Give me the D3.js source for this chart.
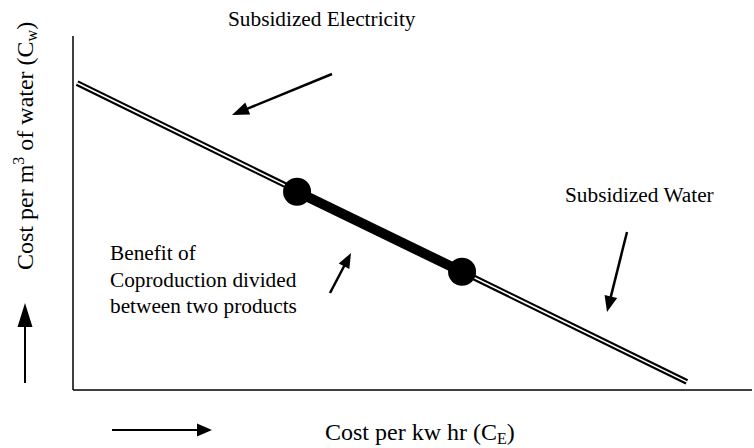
<!DOCTYPE html>
<html><head><meta charset="utf-8">
<script src="https://cdn.jsdelivr.net/npm/d3@7"></script>
<style>html,body{margin:0;padding:0;background:#fff;} svg{display:block;} svg text{font-family:"Liberation Serif","Times New Roman",serif;}</style>
</head><body>
<svg id="chart" width="754" height="448"></svg>
<script>
// ---- data (abstract units, 0-100) ----
const costLineX = [0.6, 90.4];
const costLineY = [86.7, 2.3];
const benefitX = [33.0, 57.3];
const benefitY = [56.0, 33.4];
const annotationTexts = ["Subsidized Electricity", "Subsidized Water"];
const benefitLines = ["Benefit of", "Coproduction divided", "between two products"];

const FONT = "Liberation Serif, Times New Roman, serif";
const svg = d3.select("#chart");
const x = d3.scaleLinear().domain([0, 100]).range([73, 752]);
const y = d3.scaleLinear().domain([0, 100]).range([390, 36]);

const line = d3.line().x(d => x(d[0])).y(d => y(d[1]));
const costPts = costLineX.map((v, i) => [v, costLineY[i]]);
const benPts = benefitX.map((v, i) => [v, benefitY[i]]);

// axes (no ticks)
svg.append("line").attr("x1", x(0)).attr("x2", x(0)).attr("y1", y(100)).attr("y2", y(0))
  .attr("stroke", "#000").attr("stroke-width", 1.5);
svg.append("line").attr("x1", x(0)).attr("x2", x(100)).attr("y1", y(0)).attr("y2", y(0))
  .attr("stroke", "#000").attr("stroke-width", 1.5);

// double line
svg.append("path").attr("d", line(costPts)).attr("stroke", "#000").attr("stroke-width", 6).attr("fill", "none");
svg.append("path").attr("d", line(costPts)).attr("stroke", "#fff").attr("stroke-width", 1.6).attr("fill", "none");

// thick benefit segment
svg.append("path").attr("d", line(benPts)).attr("stroke", "#000").attr("stroke-width", 10).attr("fill", "none");
svg.selectAll("circle.dot").data(benPts).enter().append("circle")
  .attr("cx", d => x(d[0])).attr("cy", d => y(d[1])).attr("r", 14).attr("fill", "#000");

// arrows helper
function arrow(x1, y1, x2, y2, headLen, headW, sw) {
  const dx = x2 - x1, dy = y2 - y1, L = Math.hypot(dx, dy);
  const ux = dx / L, uy = dy / L, px = -uy, py = ux;
  const bx = x2 - ux * headLen, by = y2 - uy * headLen;
  svg.append("line").attr("x1", x1).attr("y1", y1).attr("x2", bx + ux * 2).attr("y2", by + uy * 2)
    .attr("stroke", "#000").attr("stroke-width", sw);
  svg.append("path").attr("d", `M${x2},${y2}L${bx + px * headW / 2},${by + py * headW / 2}L${bx - px * headW / 2},${by - py * headW / 2}Z`)
    .attr("fill", "#000");
}
arrow(332, 74, 232, 115, 17, 13, 2.5);
arrow(627, 232, 607, 312, 16, 13, 2.5);
arrow(330, 293, 351, 253, 15, 12, 2.5);
arrow(25, 383, 25, 303, 24, 15, 2);
arrow(112, 430, 212, 430, 15, 13, 2.2);

// annotation texts
const fs = 21.3;
svg.append("text").attr("x", 228).attr("y", 26).attr("font-family", FONT).attr("font-size", fs).text(annotationTexts[0]);
svg.append("text").attr("x", 565).attr("y", 202).attr("font-family", FONT).attr("font-size", fs).text(annotationTexts[1]);
svg.selectAll("text.ben").data(benefitLines).enter().append("text")
  .attr("x", 110).attr("y", (d, i) => 260 + i * 26.5).attr("font-family", FONT).attr("font-size", fs).text(d => d);

// x axis title
const xt = svg.append("text").attr("x", 325).attr("y", 440).attr("font-family", FONT).attr("font-size", 24);
xt.append("tspan").text("Cost per kw hr (C");
xt.append("tspan").attr("font-size", 16).attr("dy", 4).text("E");
xt.append("tspan").attr("dy", -4).text(")");

// y axis title
const yt = svg.append("text").attr("transform", "translate(33,270) rotate(-90)").attr("font-family", FONT).attr("font-size", 24);
yt.append("tspan").text("Cost per m");
yt.append("tspan").attr("font-size", 16).attr("dy", -9).text("3");
yt.append("tspan").attr("dy", 9).text(" of water (C");
yt.append("tspan").attr("font-size", 16).attr("dy", 4).text("w");
yt.append("tspan").attr("dy", -4).text(")");
</script>
</body></html>
